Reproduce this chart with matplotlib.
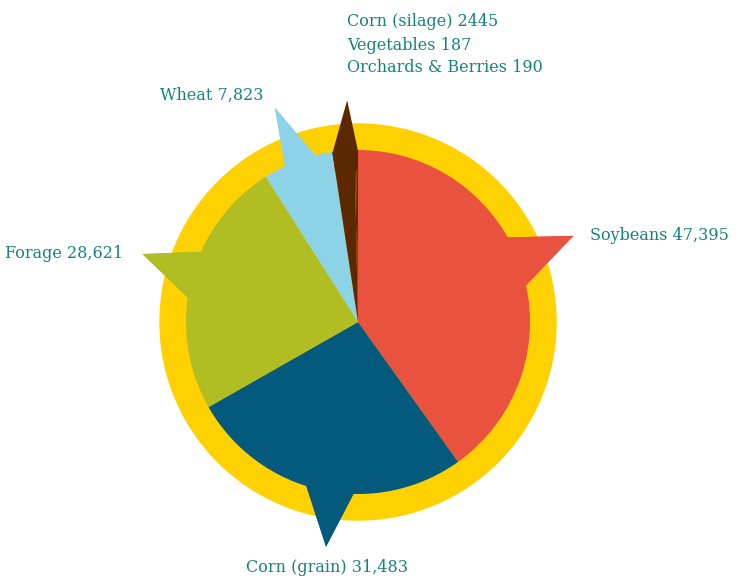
import numpy as np
import matplotlib.pyplot as plt
from matplotlib.patches import Circle, Polygon

# Data
crops = ["Soybeans", "Corn (grain)", "Forage", "Wheat",
         "Corn (silage)", "Vegetables", "Orchards & Berries"]
acres = [47395, 31483, 28621, 7823, 2445, 187, 190]
labels = ["Soybeans 47,395", "Corn (grain) 31,483", "Forage 28,621",
          "Wheat 7,823", "Corn (silage) 2445", "Vegetables 187",
          "Orchards & Berries 190"]
colors = ["#E8523E", "#045A7D", "#B0BD23", "#8DD3E7",
          "#5C2800", "#5C2800", "#5C2800"]

TEXT = "#14837C"
W, H = 742, 579
cx, cy = 358, H - 322
R_PIE = 172
R_RING = 198

fig = plt.figure(figsize=(7.42, 5.79), dpi=100)
ax = fig.add_axes([0, 0, 1, 1])

# yellow ring behind the pie
ax.add_patch(Circle((cx, cy), R_RING, color="#FFD100", zorder=0))

wedges, _ = ax.pie(acres, colors=colors, radius=R_PIE, center=(cx, cy),
                   startangle=90, counterclock=False, frame=True,
                   wedgeprops=dict(linewidth=0, antialiased=True))
for w in wedges:
    w.set_zorder(2)
ax.set_xlim(0, W)
ax.set_ylim(0, H)
ax.set_aspect("equal")
ax.axis("off")


def pt(ang, r):
    a = np.deg2rad(ang)
    return cx + r * np.cos(a), cy + r * np.sin(a)


# callout pointers: (wedge index, base angle 1, base angle 2, tip angle, tip radius)
pointers = [
    (0, 30.0, 11.6, 21.8, 232),
    (1, -108.2, -91.0, -98.1, 227),
    (2, 155.4, 172.6, 162.5, 226),
    (3, 103.9, 115.4, 111.2, 230),
]
for i, a1, a2, at, rt in pointers:
    poly = [pt(a1, R_PIE - 3), pt(at, rt), pt(a2, R_PIE - 3), (cx, cy)]
    ax.add_patch(Polygon(poly, closed=True, color=colors[i], lw=0, zorder=1.5))
    ax.add_patch(Polygon(poly[:3] + [pt((a1 + a2) / 2, R_PIE - 20)], closed=True,
                         color=colors[i], lw=0, zorder=3))

# brown pointer spans the three small slices
frac_small = sum(acres[4:]) / sum(acres)
a_brown = 90 + 360 * frac_small
brown = [pt(a_brown, R_PIE - 1), pt(92.8, 222), pt(90, R_PIE - 1),
         pt(90, R_PIE - 20), pt(a_brown, R_PIE - 20)]
ax.add_patch(Polygon(brown, closed=True, color=colors[4], lw=0, zorder=3))

font = dict(family="DejaVu Serif", fontsize=11.5, color=TEXT)
ax.text(590, H - 236, labels[0], ha="left", va="center", **font)
ax.text(327, H - 568, labels[1], ha="center", va="center", **font)
ax.text(123, H - 254, labels[2], ha="right", va="center", **font)
ax.text(264, H - 95, labels[3], ha="right", va="center", **font)
ax.text(347, H - 22, labels[4], ha="left", va="center", **font)
ax.text(347, H - 45, labels[5], ha="left", va="center", **font)
ax.text(347, H - 68, labels[6], ha="left", va="center", **font)

fig.savefig("out.png", dpi=100)
